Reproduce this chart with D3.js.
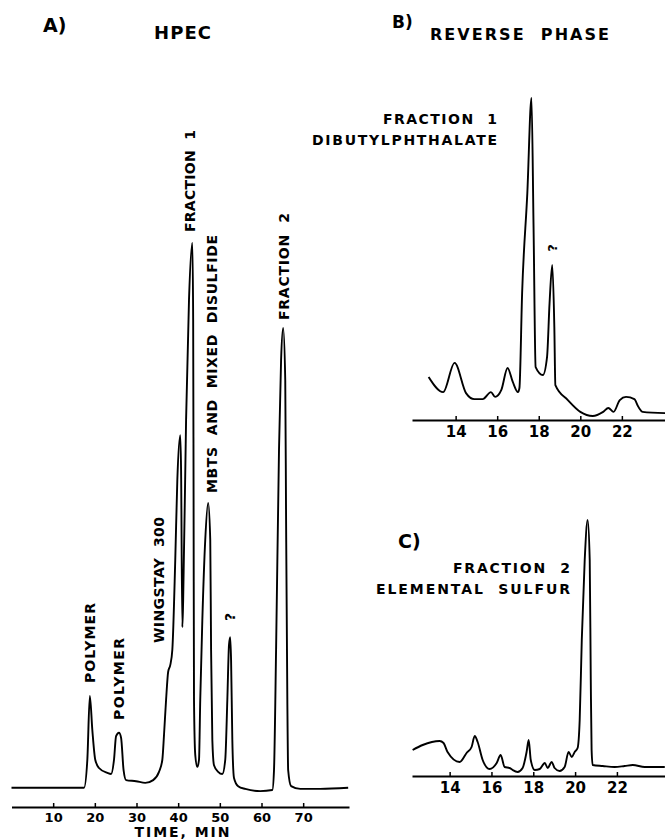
<!DOCTYPE html>
<html>
<head>
<meta charset="utf-8">
<script src="https://cdn.jsdelivr.net/npm/d3@7"></script>
<style>
  body { margin: 0; background: #fff; }
  svg text { font-family: "DejaVu Sans", "Liberation Sans", Arial, sans-serif; font-weight: bold; fill: #000; white-space: pre; }
</style>
</head>
<body>
<svg id="chart"></svg>
<script>
// A) HPEC run, time in min, detector response in % of the largest peak
const hpecTime = [0, 17.4, 18.2, 18.8, 19.4, 20.1, 21.0, 23.0, 23.9, 24.6, 25.1, 25.8, 26.3, 26.9, 27.5,
  29.9, 32.1, 34.0, 35.4, 36.2, 36.6, 37.1, 37.6, 38.1, 38.6, 39.3, 39.8, 40.5, 40.7, 41.0, 41.2, 41.9,
  42.6, 43.4, 43.6, 43.7, 43.8, 44.1, 44.6, 45.0, 45.3, 45.8, 46.5, 47.2, 47.7, 47.9, 48.2, 48.6, 49.6,
  50.6, 51.3, 51.8, 52.2, 52.5, 52.7, 53.0, 53.4, 54.4, 56.1, 59.7, 62.6, 63.0, 63.5, 64.2, 64.7, 65.2,
  65.7, 65.9, 66.2, 66.4, 67.1, 69.3, 74.1, 80.8];
const hpecSignal = [0.4, 0.4, 5.5, 17.1, 10.9, 5.5, 4.0, 3.1, 2.9, 5.5, 9.8, 10.4, 9.5, 3.6, 1.8,
  1.6, 1.3, 1.8, 3.3, 5.5, 10.0, 16.4, 21.5, 22.7, 25.5, 41.8, 56.4, 64.5, 58.2, 29.6, 34.5, 67.3,
  89.1, 99.5, 85.5, 52.7, 16.4, 6.4, 4.2, 5.5, 16.4, 30.9, 45.5, 52.2, 45.5, 25.5, 9.1, 4.5, 3.3,
  2.9, 5.5, 16.4, 26.4, 27.8, 23.6, 9.1, 2.2, 0.7, 0.2, -0.2, 0, 3.6, 25.5, 61.8, 78.2, 84.0,
  74.5, 49.1, 16.4, 3.6, 0.7, 0.2, 0.2, 0.4];
const hpecTicks = [10, 20, 30, 40, 50, 60, 70];
const hpecLabels = ["POLYMER", "POLYMER", "WINGSTAY  300", "FRACTION  1", "MBTS  AND  MIXED  DISULFIDE", "?", "FRACTION  2"];

// B) reverse phase, fraction 1
const frac1Time = [12.7, 13.4, 13.95, 14.5, 14.9, 15.3, 15.7, 15.9, 16.2, 16.5, 16.75, 17.0, 17.07, 17.2,
  17.45, 17.65, 17.75, 17.85, 18.2, 18.4, 18.52, 18.65, 18.75, 18.8, 19.4, 20.0, 20.6, 21.1, 21.35,
  21.6, 21.9, 22.2, 22.6, 22.8, 23.0, 24.1];
const frac1Signal = [12.3, 7.5, 16.7, 7.2, 5.3, 5.3, 7.5, 6.0, 8.2, 15.1, 10.7, 7.5, 8.8, 38.7,
  70.1, 100, 59.4, 15.4, 12.9, 18.6, 35.5, 47.5, 28.0, 9.7, 5.0, 1.3, 0, 1.3, 2.5,
  1.3, 5.0, 6.0, 5.3, 2.8, 1.3, 0.9];
const frac1Labels = ["FRACTION  1", "DIBUTYLPHTHALATE", "?"];

// C) reverse phase, fraction 2
const frac2Time = [12.23, 12.71, 13.52, 13.71, 13.9, 14.48, 14.81, 15.05, 15.2, 15.34, 15.58, 15.91,
  16.25, 16.44, 16.63, 16.87, 17.01, 17.25, 17.49, 17.68, 17.78, 17.88, 18.07, 18.31, 18.55, 18.69,
  18.88, 19.02, 19.26, 19.5, 19.69, 19.84, 19.98, 20.12, 20.22, 20.32, 20.46, 20.6, 20.7, 20.75,
  20.79, 20.84, 21.32, 21.89, 22.37, 22.76, 23.33, 24.29];
const frac2Signal = [8, 10, 11.6, 10.8, 7.2, 3.2, 6.8, 9.2, 13.6, 11.2, 4, 0.4,
  2.8, 6, 1.2, 0.8, 0, -0.8, 0.8, 7.2, 12, 4, 0, 0.4, 2.8, 0.8,
  3.2, 0.8, -0.4, 1.2, 7.2, 5.2, 7.2, 8.8, 20, 52, 84, 100, 84, 36,
  8, 2, 1.6, 1.2, 1.6, 2, 1.2, 1.2];
const frac2Labels = ["FRACTION  2", "ELEMENTAL  SULFUR"];
const rpTicks = [14, 16, 18, 20, 22];

const width = 665, height = 839;
const svg = d3.select('#chart').attr('width', width).attr('height', height);

// scales for the three chromatograms
const xA = d3.scaleLinear().domain([0, 81]).range([11.5, 349]);
const yA = d3.scaleLinear().domain([0, 100]).range([790, 240]);
const xB = d3.scaleLinear().domain([11.9, 24.1]).range([412, 665.5]);
const yB = d3.scaleLinear().domain([0, 100]).range([416, 98]);
const xC = d3.scaleLinear().domain([12.2, 24.3]).range([412, 665]);
const yC = d3.scaleLinear().domain([0, 100]).range([770, 520]);

function drawTrace(times, values, x, y) {
  const pts = times.map((t, i) => [t, values[i]]);
  svg.append('path')
    .datum(pts)
    .attr('fill', 'none')
    .attr('stroke', '#000')
    .attr('stroke-width', 1.9)
    .attr('stroke-linejoin', 'round')
    .attr('d', d3.line().x(d => x(d[0])).y(d => y(d[1])).curve(d3.curveMonotoneX));
}

function drawAxis(x, ticks, yPos, size, pad) {
  const g = svg.append('g')
    .attr('transform', `translate(0,${yPos})`)
    .call(d3.axisBottom(x).tickValues(ticks).tickSizeInner(-4).tickSizeOuter(0)
      .tickPadding(pad).tickFormat(d3.format('d')));
  g.select('.domain').attr('stroke', '#000').attr('stroke-width', 2);
  g.selectAll('.tick line').attr('stroke', '#000').attr('stroke-width', 1.5);
  g.selectAll('.tick text')
    .attr('fill', '#000')
    .style('font-size', size + 'px');
}

// horizontal text, fitted to the width seen in the figure
function label(text, x, y, len, size, anchor) {
  const t = svg.append('text')
    .attr('x', x).attr('y', y)
    .attr('text-anchor', anchor || 'start')
    .style('font-size', size + 'px')
    .text(text);
  if (len) t.attr('textLength', len).attr('lengthAdjust', 'spacing');
}

// vertical peak label, reading bottom to top
function vLabel(text, x, yBottom, len, size) {
  const t = svg.append('text')
    .attr('transform', `translate(${x},${yBottom}) rotate(-90)`)
    .attr('dominant-baseline', 'central')
    .style('font-size', size + 'px')
    .text(text);
  if (len) t.attr('textLength', len).attr('lengthAdjust', 'spacing');
  else t.attr('text-anchor', 'middle');
}

drawTrace(hpecTime, hpecSignal, xA, yA);
drawTrace(frac1Time, frac1Signal, xB, yB);
drawTrace(frac2Time, frac2Signal, xC, yC);

drawAxis(xA, hpecTicks, 807, 13, 6);
drawAxis(xB, rpTicks, 420, 15, 6);
drawAxis(xC, rpTicks, 776, 15, 6);

// titles
label("A)", 43, 32, 0, 19);
label("HPEC", 154, 39, 57, 18);
label("B)", 392, 28, 0, 17);
label("REVERSE  PHASE", 430, 40, 179, 16);
label("C)", 398, 548, 0, 19);
label("TIME, MIN", 182, 837, 95, 14, 'middle');

// panel A peak labels
vLabel(hpecLabels[0], 90, 683, 80, 14);
vLabel(hpecLabels[1], 119, 720, 82, 14);
vLabel(hpecLabels[2], 159, 643, 126, 14);
vLabel(hpecLabels[3], 190, 232, 102, 14);
vLabel(hpecLabels[4], 212, 493, 258, 14);
vLabel(hpecLabels[5], 230, 617, 0, 14);
vLabel(hpecLabels[6], 284, 320, 107, 14);

// panel B
label(frac1Labels[0], 497, 124, 114, 14, 'end');
label(frac1Labels[1], 497, 145, 185, 14, 'end');
vLabel(frac1Labels[2], 552, 248, 0, 13);

// panel C
label(frac2Labels[0], 570, 573, 117, 14, 'end');
label(frac2Labels[1], 570, 594, 194, 14, 'end');
</script>
</body>
</html>
